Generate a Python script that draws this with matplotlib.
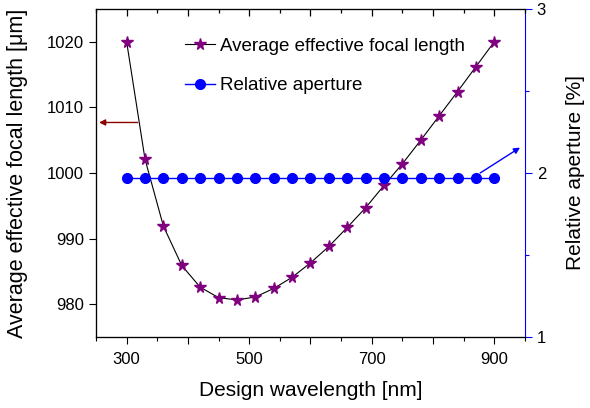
import matplotlib
matplotlib.use("Agg")
import matplotlib.pyplot as plt
from matplotlib.ticker import MultipleLocator, FuncFormatter, NullFormatter
from matplotlib.lines import Line2D

plt.rcParams['font.family'] = ['Liberation Sans', 'DejaVu Sans']

wavelength = [300, 330, 360, 390, 420, 450, 480, 510, 540, 570, 600,
              630, 660, 690, 720, 750, 780, 810, 840, 870, 900]
focal_length = [1020.0, 1002.1, 991.9, 985.9, 982.6, 981.0, 980.65, 981.1,
                982.4, 984.1, 986.3, 988.8, 991.7, 994.7, 998.1, 1001.4,
                1005.0, 1008.7, 1012.4, 1016.2, 1020.0]
rel_aperture = [1.97] * 21

x_ticks_labeled = [300, 500, 700, 900]

fig = plt.figure(figsize=(5.9, 4.08), dpi=100)
ax = fig.add_axes([0.1627, 0.174, 0.727, 0.804])
ax2 = ax.twinx()
ax3 = ax.twiny()

ax.plot(wavelength, focal_length, color='black', lw=0.8, zorder=2)
ax.plot(wavelength, focal_length, ls='none', marker='*', ms=8.5,
        color='#800080', mec='#800080', zorder=3)
ax2.plot(wavelength, rel_aperture, color='#0000FF', lw=1.0, marker='o',
         ms=7, mfc='#0000FF', mec='#0000FF')

ax.set_xlim(250, 950)
ax3.set_xlim(250, 950)
ax.set_ylim(975, 1025)
ax2.set_ylim(1, 3)

ax.xaxis.set_major_locator(MultipleLocator(100))
ax.xaxis.set_minor_locator(MultipleLocator(50))
ax.xaxis.set_major_formatter(FuncFormatter(
    lambda v, p: f"{int(round(v))}" if int(round(v)) in x_ticks_labeled else ""))
ax.yaxis.set_major_locator(MultipleLocator(10))
ax.tick_params(axis='x', which='major', direction='out', length=5, width=0.8,
               labelsize=12, pad=6, top=False)
ax.tick_params(axis='x', which='minor', direction='out', length=3, width=0.8, top=False)
ax.tick_params(axis='y', which='major', direction='out', length=5, width=0.8,
               labelsize=12)

# top axis with inward ticks
ax3.xaxis.set_major_locator(MultipleLocator(100))
ax3.xaxis.set_minor_locator(MultipleLocator(50))
ax3.xaxis.set_major_formatter(NullFormatter())
ax3.tick_params(axis='x', which='major', direction='in', length=5, width=0.9,
                labeltop=False, top=True, bottom=False, color='black')
ax3.tick_params(axis='x', which='minor', direction='in', length=3, width=0.9,
                top=True, bottom=False, color='black')

ax2.yaxis.set_major_locator(MultipleLocator(1))
ax2.yaxis.set_minor_locator(MultipleLocator(0.5))
ax2.tick_params(axis='y', which='major', direction='out', length=5, width=0.8,
                color='#0000FF', labelcolor='black', labelsize=12)
ax2.tick_params(axis='y', which='minor', direction='out', length=3, width=0.8,
                color='#0000FF')
for a in (ax, ax2, ax3):
    for s in a.spines.values():
        s.set_linewidth(0.8)
ax.spines['right'].set_visible(False)
ax3.spines['right'].set_visible(False)
ax2.spines['right'].set_color('#0000FF')

ax.set_xlabel('Design wavelength [nm]', fontsize=15, labelpad=10)
ax.set_ylabel('Average effective focal length [\u03bcm]', fontsize=15.5, labelpad=14)
ax2.set_ylabel('Relative aperture [%]', fontsize=15, labelpad=14)

handles = [
    Line2D([], [], color='black', lw=0.8, marker='*', ms=8.5,
           mfc='#800080', mec='#800080'),
    Line2D([], [], color='#0000FF', lw=1.0, marker='o', ms=7,
           mfc='#0000FF', mec='#0000FF'),
]
ax3.legend(handles, ['Average effective focal length', 'Relative aperture'],
           loc='upper left', bbox_to_anchor=(0.207, 0.913), frameon=False,
           fontsize=13.5, handlelength=1.6, handletextpad=0.3, labelspacing=1.2,
           borderpad=0, borderaxespad=0)

ax.annotate('', xy=(255, 1007.7), xytext=(318, 1007.7),
            arrowprops=dict(arrowstyle='-|>', color='#8B0000', lw=1.0,
                            mutation_scale=9, shrinkA=0, shrinkB=0))
ax2.annotate('', xy=(942, 2.155), xytext=(877, 2.0),
             arrowprops=dict(arrowstyle='-|>', color='#0000FF', lw=1.0,
                             mutation_scale=9, shrinkA=0, shrinkB=0))

fig.savefig('out.png', dpi=100)
